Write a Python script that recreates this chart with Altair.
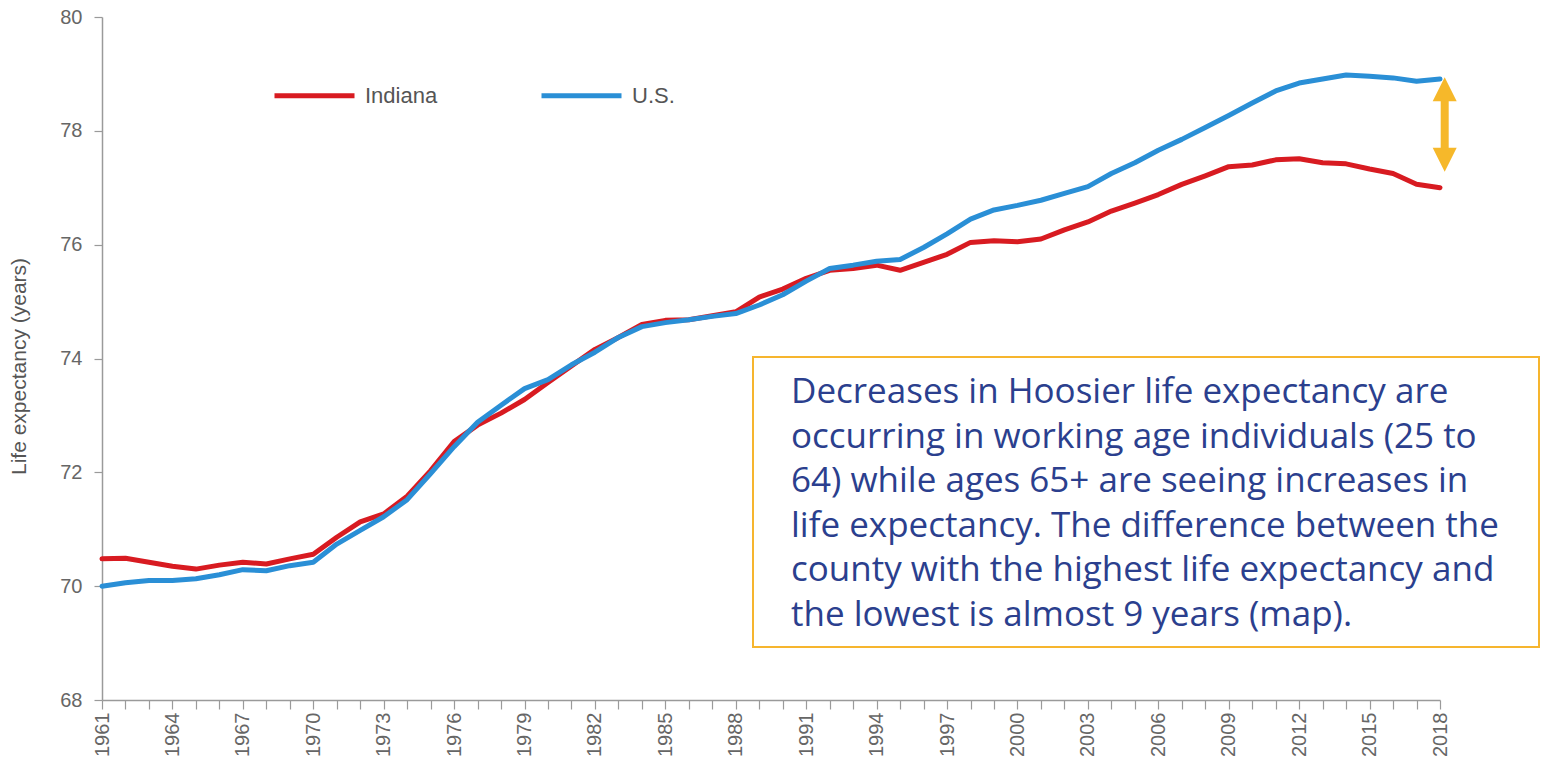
import altair as alt
import pandas as pd

years = list(range(1961, 2019))
indiana = [70.48, 70.49, 70.42, 70.35, 70.30, 70.37, 70.42, 70.39, 70.48, 70.56,
           70.86, 71.13, 71.27, 71.58, 72.03, 72.54, 72.83, 73.04, 73.28, 73.58,
           73.87, 74.16, 74.37, 74.60, 74.67, 74.68, 74.75, 74.82, 75.08, 75.22,
           75.41, 75.55, 75.58, 75.64, 75.55, 75.69, 75.83, 76.04, 76.07, 76.05,
           76.10, 76.26, 76.40, 76.59, 76.73, 76.88, 77.06, 77.21, 77.37, 77.40,
           77.49, 77.51, 77.44, 77.42, 77.33, 77.25, 77.06, 77.00]
us = [70.00, 70.06, 70.10, 70.10, 70.13, 70.20, 70.29, 70.27, 70.36, 70.42,
      70.74, 70.98, 71.22, 71.52, 71.98, 72.45, 72.88, 73.18, 73.47, 73.63,
      73.89, 74.11, 74.37, 74.56, 74.63, 74.68, 74.74, 74.79, 74.94, 75.12,
      75.36, 75.58, 75.64, 75.71, 75.74, 75.95, 76.19, 76.45, 76.61, 76.69,
      76.78, 76.90, 77.02, 77.25, 77.44, 77.66, 77.85, 78.06, 78.27, 78.49,
      78.70, 78.84, 78.91, 78.98, 78.96, 78.93, 78.87, 78.91]
series_names = ["Indiana", "U.S."]
series_colors = ["#D81B21", "#2A8FD6"]
y_ticks = [68, 70, 72, 74, 76, 78, 80]
annotation = ("Decreases in Hoosier life expectancy are\n"
              "occurring in working age individuals (25 to\n"
              "64) while ages 65+ are seeing increases in\n"
              "life expectancy. The difference between the\n"
              "county with the highest life expectancy and\n"
              "the lowest is almost 9 years (map).")
arrow_x = [2018.2]
arrow_top = [78.73]
arrow_bottom = [77.49]

df = pd.DataFrame({
    "year": years * 2,
    "value": indiana + us,
    "series": ["Indiana"] * len(years) + ["U.S."] * len(years),
})

W, H = 1338, 683
AXIS_FONT = "Liberation Sans"
Y_TITLE = "Life expectancy (years)"
LABEL_SIZE = 20

xscale = alt.Scale(domain=[1961, 2018], nice=False, zero=False)
yscale = alt.Scale(domain=[68, 80], nice=False, zero=False)

xaxis = alt.Axis(values=years, format="d", labelAngle=270, labelOverlap=False,
                 labelExpr="(datum.value - 1961) % 3 == 0 ? datum.label : ''",
                 tickSize=9, labelPadding=3, labelFontSize=LABEL_SIZE, labelFont=AXIS_FONT,
                 labelColor="#666666", domainColor="#9a9a9a", tickColor="#9a9a9a",
                 domainWidth=1.5, tickWidth=1.2, grid=False)
yaxis = alt.Axis(values=y_ticks, format="d", tickSize=8, labelPadding=12,
                 labelFontSize=LABEL_SIZE, labelFont=AXIS_FONT, labelColor="#666666",
                 domainColor="#9a9a9a", tickColor="#9a9a9a", domainWidth=1.5, tickWidth=1.2,
                 grid=False, titleFont=AXIS_FONT, titleFontSize=21, titleFontWeight="normal",
                 titleColor="#555555", titleAngle=270, titleX=-83, titleY=349,
                 titleAlign="center", titleBaseline="middle")

lines = alt.Chart(df).mark_line(strokeWidth=5, strokeCap="round", strokeJoin="round").encode(
    x=alt.X("year:Q", scale=xscale, title=None, axis=xaxis),
    y=alt.Y("value:Q", scale=yscale, title=Y_TITLE, axis=yaxis),
    color=alt.Color("series:N", scale=alt.Scale(domain=series_names, range=series_colors),
                    legend=alt.Legend(title=None, orient="none", direction="horizontal",
                                      legendX=170, legendY=36, symbolType="stroke",
                                      symbolSize=6400, symbolStrokeWidth=5,
                                      labelFont=AXIS_FONT, labelFontSize=22,
                                      labelColor="#555555", labelOffset=8,
                                      columnPadding=93)),
)

box = alt.Chart(pd.DataFrame({"t": [annotation]})).mark_rect(
    fill="white", stroke="#F6B52E", strokeWidth=2
).encode(x=alt.value(651), x2=alt.value(1437), y=alt.value(340), y2=alt.value(630))

text = alt.Chart(pd.DataFrame({"t": [annotation]})).mark_text(
    align="left", baseline="middle", lineBreak="\n", lineHeight=44.6,
    font="Open Sans", fontSize=35, color="#2B3F8E"
).encode(x=alt.value(689), y=alt.value(375), text="t:N")

arrow_df = pd.DataFrame({"x": arrow_x, "top": arrow_top, "bottom": arrow_bottom})
ax_x = alt.X("x:Q", scale=xscale, title=None, axis=xaxis)
ax_top = alt.Y("top:Q", scale=yscale, title=Y_TITLE, axis=yaxis)
shaft = alt.Chart(arrow_df).mark_rule(color="#F6B82A", strokeWidth=8).encode(
    x=ax_x, y=ax_top, y2="bottom:Q")
head_up = alt.Chart(arrow_df).mark_point(
    shape="M-1,1L0,-1L1,1Z", filled=True, fill="#F6B82A", opacity=1, size=576
).encode(x=ax_x, y=ax_top)
head_down = alt.Chart(arrow_df).mark_point(
    shape="M-1,-1L0,1L1,-1Z", filled=True, fill="#F6B82A", opacity=1, size=576
).encode(x=ax_x, y=alt.Y("bottom:Q", scale=yscale, title=Y_TITLE, axis=yaxis))

chart = alt.layer(lines, box, text, shaft, head_up, head_down).properties(
    width=W, height=H,
    padding={"left": 94, "top": 9, "right": 100, "bottom": 57},
    autosize=alt.AutoSizeParams(type="none"),
).configure_view(stroke=None).configure_axis(
    labelFontSize=LABEL_SIZE, labelFont=AXIS_FONT
)

chart.save("out.html", embed_options={"renderer": "svg", "actions": False})
